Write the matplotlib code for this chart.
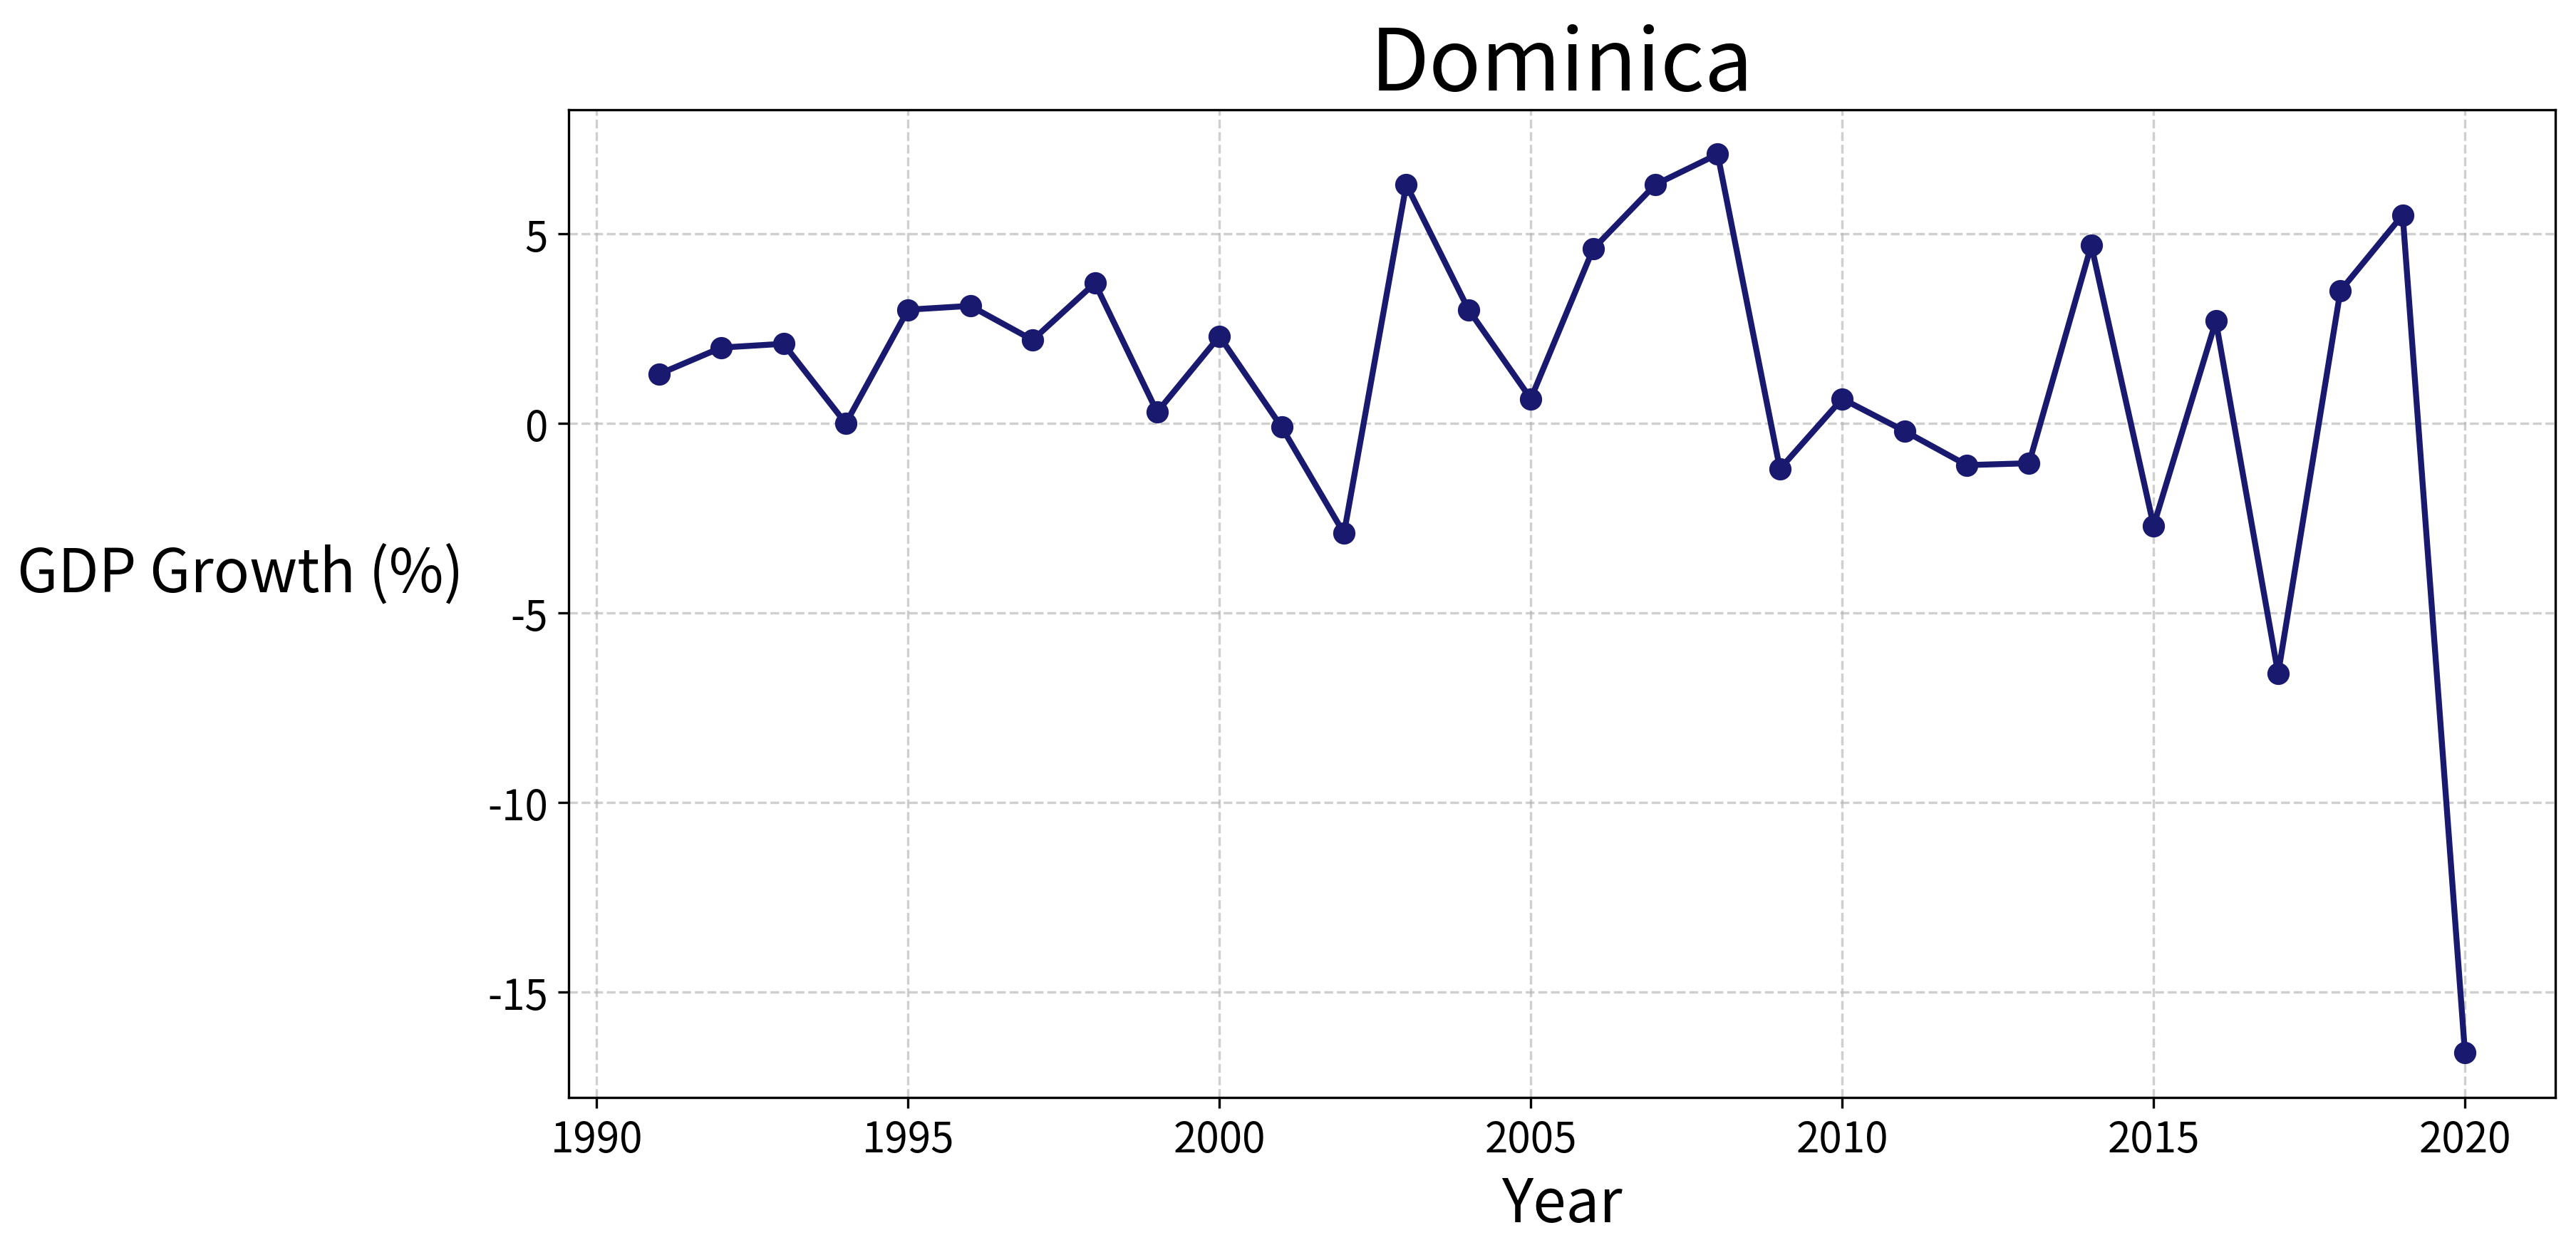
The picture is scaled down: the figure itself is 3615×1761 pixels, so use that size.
import matplotlib
matplotlib.use("Agg")
import matplotlib.pyplot as plt

plt.rcParams['font.family'] = ['Noto Sans CJK KR', 'DejaVu Sans']
plt.rcParams['axes.unicode_minus'] = False

years = list(range(1991, 2021))
growth = [1.3, 2.0, 2.1, 0.0, 3.0, 3.1, 2.2, 3.7, 0.3, 2.3,
          -0.1, -2.9, 6.3, 3.0, 0.65, 4.6, 6.3, 7.1, -1.2, 0.65,
          -0.2, -1.1, -1.05, 4.7, -2.7, 2.7, -6.6, 3.5, 5.5, -16.6]

fig = plt.figure(figsize=(12.053, 5.873), dpi=300)
ax = fig.add_axes([0.2207, 0.1257, 0.771, 0.7866])
ax.plot(years, growth, color="#191970", marker="o", lw=2, markersize=6.5)
ax.set_title("Dominica", fontsize=29)
ax.set_xlabel("Year", fontsize=20)
ax.set_ylabel("GDP Growth (%)", fontsize=20, rotation=0, ha="right", va="center")
ax.yaxis.set_label_coords(-0.053, 0.53)
ax.tick_params(labelsize=14)
ax.grid(True, linestyle="--", alpha=0.6)
ax.set_ylim(-17.77, 8.28)
fig.savefig("out.png", dpi=300)
